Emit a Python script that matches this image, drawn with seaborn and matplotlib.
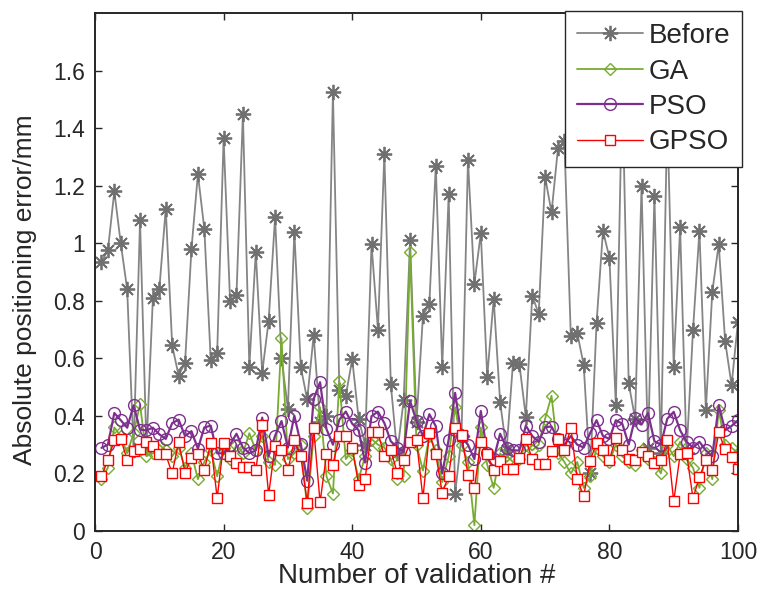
import numpy as np
import pandas as pd
import seaborn as sns
import matplotlib.pyplot as plt
from matplotlib.ticker import FormatStrFormatter

# validation index 1..100
idx = list(range(1, 101))

before = [0.935, 0.975, 1.18, 1.00, 0.84, 0.28, 1.08, 0.29, 0.81, 0.84,
          1.12, 0.645, 0.54, 0.585, 0.98, 1.24, 1.05, 0.594, 0.62, 1.366,
          0.80, 0.82, 1.45, 0.57, 0.97, 0.55, 0.73, 1.09, 0.60, 0.425,
          1.04, 0.57, 0.457, 0.68, 0.38, 0.40, 1.527, 0.49, 0.47, 0.597,
          0.39, 0.30, 0.997, 0.70, 1.31, 0.51, 0.27, 0.455, 1.01, 0.38,
          0.748, 0.79, 1.27, 0.57, 1.17, 0.128, 0.33, 1.29, 0.86, 1.035,
          0.536, 0.807, 0.449, 0.28, 0.583, 0.58, 0.396, 0.818, 0.755, 1.23,
          1.107, 1.33, 1.354, 0.676, 0.688, 0.577, 0.20, 0.723, 1.043, 0.95,
          0.437, 1.55, 0.513, 0.39, 1.20, 0.29, 1.165, 0.27, 1.45, 0.571,
          1.055, 0.27, 0.697, 1.043, 0.42, 0.83, 0.997, 0.66, 0.507, 0.728]

ga = [0.18, 0.22, 0.36, 0.33, 0.27, 0.34, 0.44, 0.26, 0.27, 0.30,
      0.28, 0.26, 0.29, 0.22, 0.27, 0.18, 0.24, 0.28, 0.19, 0.29,
      0.25, 0.30, 0.27, 0.34, 0.28, 0.33, 0.24, 0.23, 0.67, 0.25,
      0.27, 0.30, 0.08, 0.33, 0.43, 0.19, 0.13, 0.52, 0.25, 0.28,
      0.18, 0.26, 0.32, 0.30, 0.29, 0.25, 0.18, 0.19, 0.97, 0.30,
      0.21, 0.33, 0.28, 0.17, 0.26, 0.43, 0.30, 0.24, 0.02, 0.36,
      0.23, 0.15, 0.27, 0.24, 0.26, 0.25, 0.30, 0.28, 0.30, 0.39,
      0.47, 0.27, 0.24, 0.20, 0.24, 0.15, 0.19, 0.29, 0.26, 0.24,
      0.30, 0.26, 0.24, 0.23, 0.28, 0.25, 0.24, 0.20, 0.30, 0.26,
      0.31, 0.25, 0.22, 0.15, 0.27, 0.18, 0.42, 0.30, 0.29, 0.27]

pso = [0.289, 0.30, 0.41, 0.385, 0.359, 0.437, 0.352, 0.35, 0.359, 0.336,
       0.32, 0.375, 0.387, 0.33, 0.347, 0.286, 0.36, 0.366, 0.27, 0.27,
       0.30, 0.338, 0.29, 0.27, 0.28, 0.394, 0.26, 0.331, 0.382, 0.29,
       0.401, 0.303, 0.175, 0.459, 0.517, 0.354, 0.30, 0.387, 0.415, 0.373,
       0.35, 0.238, 0.399, 0.415, 0.375, 0.312, 0.29, 0.275, 0.452, 0.382,
       0.33, 0.406, 0.364, 0.20, 0.317, 0.48, 0.33, 0.30, 0.25, 0.417,
       0.27, 0.25, 0.338, 0.29, 0.28, 0.28, 0.366, 0.33, 0.31, 0.361,
       0.363, 0.32, 0.30, 0.33, 0.30, 0.29, 0.34, 0.385, 0.33, 0.32,
       0.385, 0.373, 0.30, 0.394, 0.37, 0.41, 0.312, 0.30, 0.39, 0.414,
       0.35, 0.31, 0.29, 0.31, 0.28, 0.26, 0.437, 0.35, 0.365, 0.385]

gpso = [0.19, 0.247, 0.315, 0.32, 0.247, 0.277, 0.284, 0.308, 0.296, 0.266,
        0.266, 0.20, 0.31, 0.203, 0.254, 0.266, 0.212, 0.305, 0.114, 0.305,
        0.26, 0.235, 0.221, 0.221, 0.212, 0.37, 0.126, 0.296, 0.282, 0.212,
        0.315, 0.26, 0.098, 0.359, 0.10, 0.266, 0.231, 0.329, 0.329, 0.289,
        0.161, 0.182, 0.343, 0.343, 0.259, 0.28, 0.203, 0.247, 0.31, 0.315,
        0.114, 0.34, 0.266, 0.133, 0.191, 0.359, 0.335, 0.196, 0.149, 0.31,
        0.266, 0.212, 0.242, 0.217, 0.217, 0.254, 0.319, 0.249, 0.233, 0.233,
        0.277, 0.319, 0.28, 0.359, 0.18, 0.121, 0.245, 0.305, 0.28, 0.247,
        0.324, 0.282, 0.25, 0.247, 0.273, 0.26, 0.235, 0.247, 0.315, 0.103,
        0.266, 0.27, 0.114, 0.187, 0.247, 0.212, 0.343, 0.284, 0.256, 0.214]

sns.set_style("ticks")
plt.rcParams['font.family'] = ['Liberation Sans', 'DejaVu Sans']

fig = plt.figure(figsize=(7.62, 6.05), dpi=100)
ax = fig.add_axes([0.1247, 0.1223, 0.8438, 0.8562])

sns.lineplot(x=idx, y=before, ax=ax, color='#858585', linewidth=1.3,
             marker=(8, 2, 0), markersize=11, markeredgecolor='#707070',
             markeredgewidth=1.3, label='Before')
sns.lineplot(x=idx, y=ga, ax=ax, color='#77AC30', linewidth=1.3,
             marker='D', markersize=6.5, markerfacecolor='none',
             markeredgecolor='#77AC30', markeredgewidth=1.0, label='GA')
sns.lineplot(x=idx, y=pso, ax=ax, color='#7E2F8E', linewidth=1.6,
             marker='o', markersize=8.5, markerfacecolor='none',
             markeredgecolor='#7E2F8E', markeredgewidth=1.0, label='PSO')
sns.lineplot(x=idx, y=gpso, ax=ax, color='#FF0000', linewidth=1.0,
             marker='s', markersize=7, markerfacecolor='white',
             markeredgecolor='#FF0000', markeredgewidth=1.0, label='GPSO')

ax.set_xlim(0, 100)
ax.set_ylim(0, 1.8)
ax.set_xticks([0, 20, 40, 60, 80, 100])
ax.set_yticks(np.arange(0, 1.61, 0.2))
ax.yaxis.set_major_formatter(FormatStrFormatter('%g'))
ax.tick_params(direction='in', top=True, right=True, length=5, width=1,
               labelsize=16.5, colors='#262626', pad=7)
for s in ax.spines.values():
    s.set_linewidth(1.4)
    s.set_color('#262626')

ax.set_xlabel('Number of validation #', fontsize=20, color='#262626')
ax.set_ylabel('Absolute positioning error/mm', fontsize=19, color='#262626')
ax.xaxis.set_label_coords(0.5, -0.062)
ax.yaxis.set_label_coords(-0.091, 0.465)

leg = ax.legend(loc='upper right', bbox_to_anchor=(0.974, 0.981),
                bbox_transform=fig.transFigure, fontsize=20, frameon=True,
                fancybox=False, edgecolor='#262626', framealpha=1,
                handlelength=2.4, borderpad=0.42, labelspacing=0.34,
                handletextpad=0.2, borderaxespad=0)
leg.get_frame().set_linewidth(1.0)

fig.savefig('out.png', dpi=100)
